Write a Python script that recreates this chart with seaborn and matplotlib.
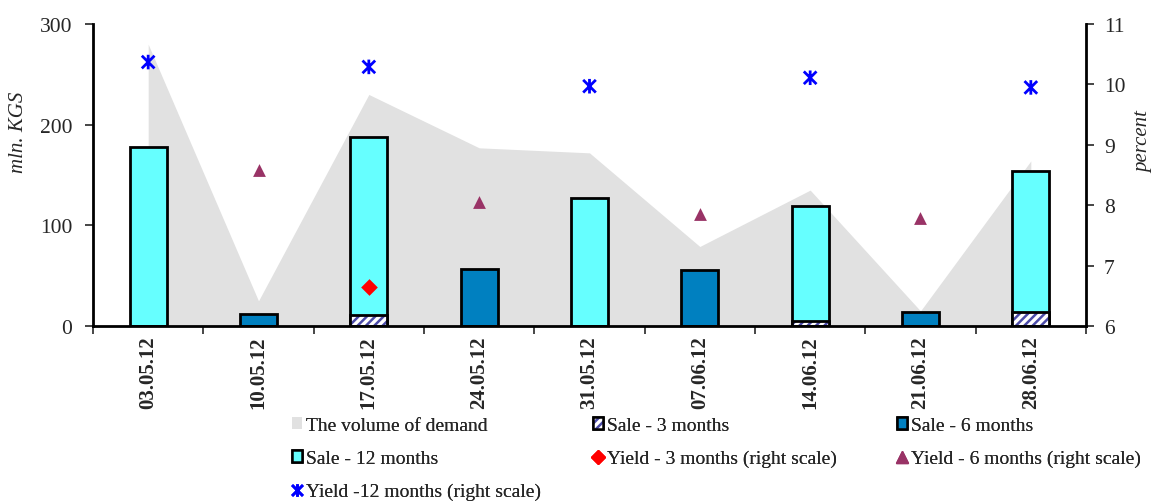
import numpy as np
import matplotlib
matplotlib.use("Agg")
import matplotlib.pyplot as plt
import seaborn as sns
from matplotlib.path import Path
from matplotlib.lines import Line2D
from matplotlib.patches import Patch
from matplotlib.transforms import Bbox, TransformedBbox
from matplotlib.ticker import FixedLocator

# ---------------- data ----------------
dates = ['03.05.12', '10.05.12', '17.05.12', '24.05.12', '31.05.12',
         '07.06.12', '14.06.12', '21.06.12', '28.06.12']
demand = [280, 25, 230, 177, 172, 79, 135, 15, 164]
sale_3m = [0, 0, 11, 0, 0, 0, 5, 0, 13.5]
sale_6m = [0, 12, 0, 56.5, 0, 55.5, 0, 14, 0]
sale_12m = [178, 0, 177, 0, 127, 0, 114, 0, 140]
nan = np.nan
yield_3m = [nan, nan, 6.65, nan, nan, nan, nan, nan, nan]
yield_6m = [nan, 8.59, nan, 8.05, nan, 7.85, nan, 7.79, nan]
yield_12m = [10.37, nan, 10.29, nan, 9.97, nan, 10.11, nan, 9.95]

left_ticks = [0, 100, 200, 300]
right_ticks = [6, 7, 8, 9, 10, 11]

# ---------------- style ----------------
sns.set_style("white")
plt.rcParams['font.family'] = ['Liberation Serif', 'DejaVu Serif']
plt.rcParams['hatch.linewidth'] = 1.8

C_DEMAND = '#E1E1E1'
C_12 = '#66FFFF'
C_6 = '#0080C0'
C_3H = '#4B4BA8'
C_Y3 = '#FF0000'
C_Y6 = '#993366'
C_Y12 = '#0000FF'

star = Path([(-1, -1), (1, 1), (-1, 1), (1, -1), (0, -1.15), (0, 1.15)],
            [Path.MOVETO, Path.LINETO, Path.MOVETO, Path.LINETO, Path.MOVETO, Path.LINETO])

W, H = 1153, 502
fig = plt.figure(figsize=(W / 100, H / 100), dpi=100)
ax = fig.add_axes([93 / W, (H - 327) / H, (1086 - 93) / W, (327 - 25) / H])

xpos = np.arange(len(dates))

# demand area
ax.fill_between(xpos, demand, 0, color=C_DEMAND, lw=0, zorder=1)

bw = 0.335
stack_top = np.array(sale_3m) + np.array(sale_12m)
sns.barplot(x=dates, y=stack_top, order=dates, width=bw, color=C_12, saturation=1,
            edgecolor='black', linewidth=2, errorbar=None, ax=ax, zorder=2)
sns.barplot(x=dates, y=sale_6m, order=dates, width=bw, color=C_6, saturation=1,
            edgecolor='black', linewidth=2, errorbar=None, ax=ax, zorder=2)
sns.barplot(x=dates, y=sale_3m, order=dates, width=bw, color='white', saturation=1,
            edgecolor=C_3H, hatch='////', linewidth=0, errorbar=None, ax=ax, zorder=2)
sns.barplot(x=dates, y=sale_3m, order=dates, width=bw, fill=False,
            edgecolor='black', linewidth=2, errorbar=None, ax=ax, zorder=2)

ax.set_xlim(-0.5, len(dates) - 0.5)
ax.set_ylim(0, 300)
ax.set_yticks(left_ticks)
ax.set_xlabel('')
ax.set_ylabel('mln. KGS', fontsize=15, style='italic')
ax.yaxis.set_label_coords(-0.0655, 0.646)

ax.xaxis.set_major_locator(FixedLocator(xpos))
ax.set_xticklabels(dates, rotation=90, fontsize=15, fontweight='bold')
ax.xaxis.set_minor_locator(FixedLocator(np.arange(-0.5, len(dates), 1.0)))
ax.tick_params(axis='x', which='major', length=0, pad=7)
ax.tick_params(axis='x', which='minor', length=6, width=1.2, direction='out', bottom=True)
ax.tick_params(axis='y', length=6, width=1.2, direction='out', labelsize=15.5, pad=9, left=True)

for s in ['top', 'right']:
    ax.spines[s].set_visible(False)
for s in ['left', 'bottom']:
    ax.spines[s].set_linewidth(2)
    ax.spines[s].set_color('black')

# clip x tick labels like reference
clip = TransformedBbox(Bbox([[0, 91 / H], [1, 1]]), fig.transFigure)
for lbl in ax.get_xticklabels():
    lbl.set_clip_box(clip)
    lbl.set_clip_on(True)

# right axis
ax2 = ax.twinx()
sns.scatterplot(x=xpos, y=yield_6m, marker='^', s=85, color=C_Y6, edgecolor=C_Y6,
                linewidth=0, ax=ax2, zorder=5)
sns.scatterplot(x=xpos, y=yield_3m, marker='D', s=72, color=C_Y3, edgecolor=C_Y3,
                linewidth=0, ax=ax2, zorder=5)
sns.scatterplot(x=xpos, y=yield_12m, marker=star, s=110, color=C_Y12, edgecolor=C_Y12,
                facecolor='none', linewidth=2, ax=ax2, zorder=5)
ax2.set_ylim(6, 11)
ax2.set_xlim(-0.5, len(dates) - 0.5)
ax2.set_yticks(right_ticks)
ax2.set_ylabel('percent', fontsize=15, style='italic', rotation=90)
ax2.yaxis.set_label_coords(1.0483, 0.613)
ax2.tick_params(axis='y', length=6, width=1.2, direction='out', labelsize=15.5, pad=7, right=True)
for s in ['top', 'left', 'bottom']:
    ax2.spines[s].set_visible(False)
ax2.spines['right'].set_linewidth(2)
ax2.spines['right'].set_color('black')

# legend (three columns placed individually)
h_dem = Patch(facecolor=C_DEMAND, edgecolor='none')
h_3 = (Patch(facecolor='white', edgecolor=C_3H, hatch='////', lw=0),
       Patch(facecolor='none', edgecolor='black', lw=1.8))
h_6 = Patch(facecolor=C_6, edgecolor='black', lw=1.8)
h_12 = Patch(facecolor=C_12, edgecolor='black', lw=1.8)
h_y3 = Line2D([], [], ls='none', marker='D', ms=7, color=C_Y3, mec=C_Y3)
h_y6 = Line2D([], [], ls='none', marker='^', ms=9, color=C_Y6, mec=C_Y6)
h_y12 = Line2D([], [], ls='none', marker=star, ms=9, color=C_Y12, mec=C_Y12, mew=2)

columns = [
    (292, [h_dem, h_12, h_y12],
     ['The volume of demand', 'Sale - 12 months', 'Yield -12 months (right scale)']),
    (593, [h_3, h_y3], ['Sale - 3 months', 'Yield - 3 months (right scale)']),
    (897, [h_6, h_y6], ['Sale - 6 months', 'Yield - 6 months (right scale)']),
]
for xl, hs, ls in columns:
    leg = fig.legend(hs, ls, ncol=1, loc='upper left',
                     bbox_to_anchor=(xl / W, (H - 418) / H), frameon=False, fontsize=14,
                     handlelength=0.5, handleheight=0.6, handletextpad=0.2,
                     labelspacing=0.82, borderpad=0, borderaxespad=0)
    fig.add_artist(leg)

fig.savefig('out.png', dpi=100)
